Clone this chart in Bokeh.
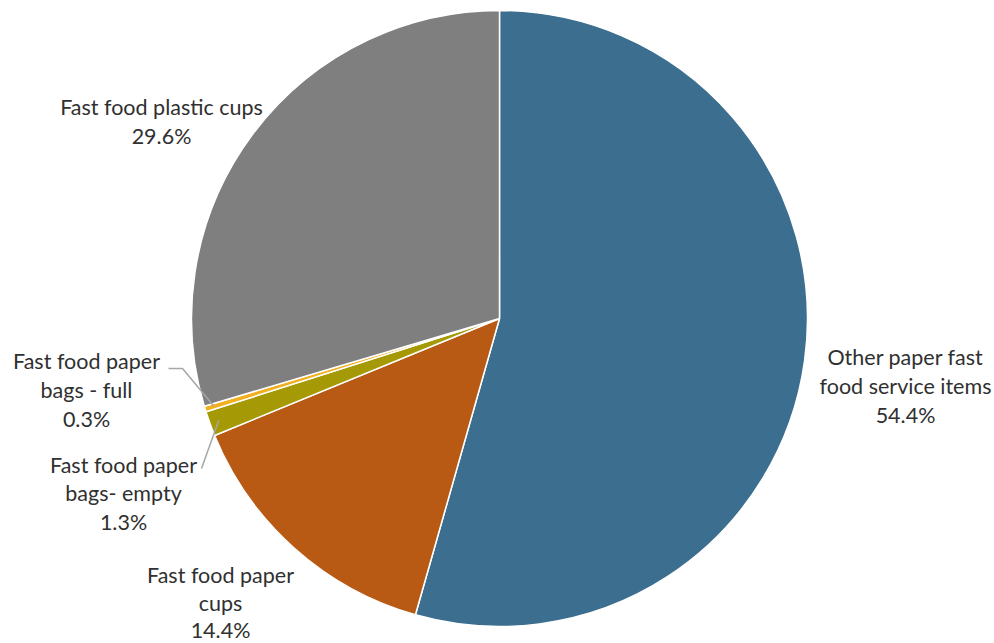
import math
from bokeh.plotting import figure
from bokeh.models import Range1d, ColumnDataSource
from bokeh.core.properties import value
from bokeh.embed import file_html
from bokeh.resources import INLINE

categories = ["Other paper fast food service items", "Fast food paper cups",
              "Fast food paper bags- empty", "Fast food paper bags - full",
              "Fast food plastic cups"]
shares = [54.4, 14.4, 1.3, 0.3, 29.6]
colors = ["#3B6E8F", "#B85A14", "#A59A05", "#F2B01E", "#7F7F7F"]
label_lines = [["Other paper fast", "food service items", "54.4%"],
               ["Fast food paper", "cups", "14.4%"],
               ["Fast food paper", "bags- empty", "1.3%"],
               ["Fast food paper", "bags - full", "0.3%"],
               ["Fast food plastic cups", "29.6%"]]

W, H = 994, 643
def sy(y):  # screen y -> data y
    return H - y

p = figure(width=W, height=H, output_backend="svg", toolbar_location=None,
           x_range=Range1d(0, W), y_range=Range1d(0, H), min_border=0)
p.axis.visible = False
p.grid.visible = False
p.outline_line_color = None
p.background_fill_color = "white"

cx, cy, r = 499, sy(318), 308
total = sum(shares)
starts, ends = [], []
a = math.pi / 2
for s in shares:
    e = a - 2 * math.pi * s / total
    starts.append(e)
    ends.append(a)
    a = e
src = ColumnDataSource(dict(start=starts, end=ends, color=colors))
p.wedge(x=cx, y=cy, radius=r, start_angle="start", end_angle="end",
        fill_color="color", line_color="white", line_width=1.5, source=src)

# label layout (screen positions of label centers)
label_pos = [(905, [356, 385, 414]),
             (220, [574, 602, 629]),
             (123, [464, 492, 521]),
             (86, [360, 389, 418]),
             (161, [106, 135])]
xs, ys, txt = [], [], []
for lines, (lx, lys) in zip(label_lines, label_pos):
    for t, ly in zip(lines, lys):
        xs.append(lx); ys.append(sy(ly)); txt.append(t)
p.text(x=xs, y=ys, text=txt, text_font=value("Lato"), text_font_size="21.5px",
       text_color="#303030", text_align="center", text_baseline="middle")

# leader lines for the two small slices
def edge_point(i, rr):
    mid = (starts[i] + ends[i]) / 2
    return cx + rr * math.cos(mid), cy + rr * math.sin(mid)

ex, ey = edge_point(3, r * 0.97)
p.line(x=[168, 182, ex], y=[sy(368), sy(368), ey], line_color="#A6A6A6", line_width=1.5)
ex2, ey2 = edge_point(2, r * 0.97)
p.line(x=[201, ex2], y=[sy(468), ey2], line_color="#A6A6A6", line_width=1.5)

open("out.html", "w").write(file_html(p, INLINE))
